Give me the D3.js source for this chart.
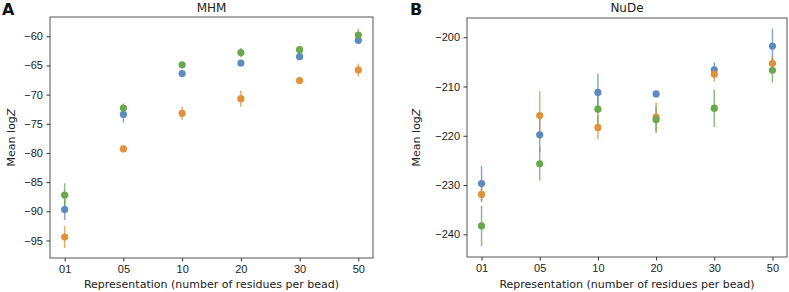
<!DOCTYPE html>
<html>
<head>
<meta charset="utf-8">
<script src="https://cdn.jsdelivr.net/npm/d3@7"></script>
<style>
  body { margin: 0; background: #fff; }
  svg { display: block; font-family: "DejaVu Sans", sans-serif; }
</style>
</head>
<body>
<svg id="chart" width="789" height="292"></svg>
<script>
// categories (residues per bead)
const reps = ["01", "05", "10", "20", "30", "50"];
const seriesNames = ["blue", "orange", "green"];

// MHM means and errors
const mhmBlue = [-89.7, -73.4, -66.4, -64.6, -63.5, -60.7];
const mhmBlueErr = [1.8, 1.4, 0.6, 0.3, 0.4, 0.3];
const mhmOrange = [-94.4, -79.3, -73.2, -70.7, -67.6, -65.8];
const mhmOrangeErr = [1.9, 0.6, 1.1, 1.4, 0.3, 1.1];
const mhmGreen = [-87.2, -72.3, -64.9, -62.8, -62.3, -59.8];
const mhmGreenErr = [2.0, 0.8, 0.4, 0.8, 0.6, 1.1];

// NuDe means and errors
const nudeBlue = [-229.7, -219.8, -211.2, -211.5, -206.6, -201.8];
const nudeBlueErr = [3.6, 3.5, 3.8, 0.3, 1.5, 3.5];
const nudeOrange = [-231.9, -215.9, -218.3, -216.2, -207.5, -205.3];
const nudeOrangeErr = [1.5, 5.0, 2.4, 3.0, 1.5, 1.5];
const nudeGreen = [-238.3, -225.7, -214.6, -216.7, -214.4, -206.7];
const nudeGreenErr = [4.1, 3.4, 3.0, 2.7, 3.8, 2.5];

const yTicksA = [-95, -90, -85, -80, -75, -70, -65, -60];
const yTicksB = [-240, -230, -220, -210, -200];

const colors = { blue: "#5b8bc2", orange: "#e1913a", green: "#6aa84f" };

const svg = d3.select("#chart");

function panel(opt) {
  const g = svg.append("g");
  const x = d3.scalePoint().domain(reps).range([opt.left, opt.right]).padding(0.25);
  const y = d3.scaleLinear().domain(opt.yDomain).range([opt.bottom, opt.top]);

  // error bars then markers (drawn in series order)
  opt.series.forEach(s => {
    const pts = reps.map((r, i) => ({ r, v: s.values[i], e: s.err[i] }));
    g.append("g").selectAll("line")
      .data(pts).enter().append("line")
      .attr("x1", d => x(d.r)).attr("x2", d => x(d.r))
      .attr("y1", d => y(d.v - d.e)).attr("y2", d => y(d.v + d.e))
      .attr("stroke", colors[s.name]).attr("stroke-width", 1.5)
      .attr("opacity", 0.75);
  });
  opt.series.forEach(s => {
    const pts = reps.map((r, i) => ({ r, v: s.values[i] }));
    g.append("g").selectAll("circle")
      .data(pts).enter().append("circle")
      .attr("cx", d => x(d.r)).attr("cy", d => y(d.v))
      .attr("r", 3.6)
      .attr("fill", colors[s.name]);
  });

  // frame
  g.append("rect")
    .attr("x", opt.left0).attr("y", opt.top)
    .attr("width", opt.right0 - opt.left0).attr("height", opt.bottom - opt.top)
    .attr("fill", "none").attr("stroke", "#555").attr("stroke-width", 1);

  const xAxis = g.append("g")
    .attr("transform", `translate(0,${opt.bottom})`)
    .call(d3.axisBottom(x).tickSize(3.5).tickPadding(3.5));
  const yAxis = g.append("g")
    .attr("transform", `translate(${opt.left0},0)`)
    .call(d3.axisLeft(y).tickValues(opt.yTicks).tickSize(3.5).tickPadding(3.5)
      .tickFormat(d => String(d).replace("-", "\u2212")));
  [xAxis, yAxis].forEach(a => {
    a.select(".domain").remove();
    a.selectAll(".tick line").attr("stroke", "#333");
    a.selectAll(".tick text").attr("fill", "#222").style("font-size", "11px");
  });

  g.append("text")
    .attr("x", (opt.left0 + opt.right0) / 2).attr("y", 12)
    .attr("text-anchor", "middle").attr("fill", "#222")
    .style("font-size", "12px")
    .text(opt.title);

  g.append("text")
    .attr("x", (opt.left0 + opt.right0) / 2).attr("y", 288)
    .attr("text-anchor", "middle").attr("fill", "#222")
    .style("font-size", "11px")
    .text("Representation (number of residues per bead)");

  const yl = g.append("text")
    .attr("transform", `translate(${opt.ylabelX},${(opt.top + opt.bottom) / 2}) rotate(-90)`)
    .attr("text-anchor", "middle").attr("fill", "#222")
    .style("font-size", "11px");
  yl.append("tspan").text("Mean log");
  yl.append("tspan").attr("font-style", "italic").text("Z");

  g.append("text")
    .attr("x", opt.letterX).attr("y", 15)
    .attr("fill", "#111").style("font-size", "16px").style("font-weight", "bold")
    .text(opt.letter);
}

panel({
  left0: 50, right0: 373, left: 50, right: 373, top: 17, bottom: 258,
  yDomain: [-98.0, -56.7], yTicks: yTicksA, title: "MHM",
  ylabelX: 15, letter: "A", letterX: 2,
  series: [
    { name: "blue", values: mhmBlue, err: mhmBlueErr },
    { name: "orange", values: mhmOrange, err: mhmOrangeErr },
    { name: "green", values: mhmGreen, err: mhmGreenErr }
  ]
});

panel({
  left0: 467, right0: 787, left: 467, right: 787, top: 18, bottom: 257,
  yDomain: [-244.6, -196.1], yTicks: yTicksB, title: "NuDe",
  ylabelX: 420, letter: "B", letterX: 410,
  series: [
    { name: "blue", values: nudeBlue, err: nudeBlueErr },
    { name: "orange", values: nudeOrange, err: nudeOrangeErr },
    { name: "green", values: nudeGreen, err: nudeGreenErr }
  ]
});
</script>
</body>
</html>
